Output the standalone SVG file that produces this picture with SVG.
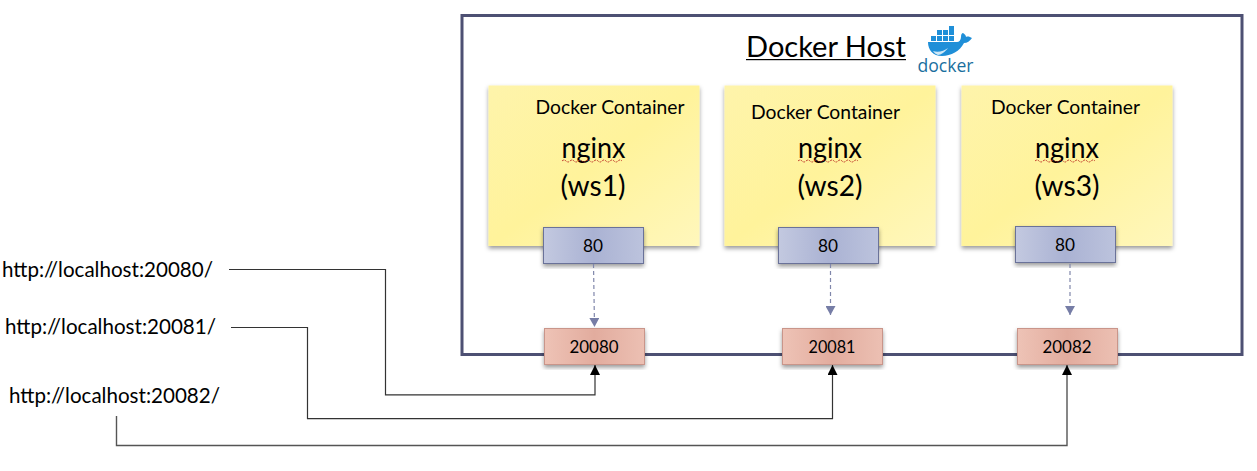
<svg xmlns="http://www.w3.org/2000/svg" width="1257" height="471" viewBox="0 0 1257 471">
<style>
text{font-family:"Lato","Noto Sans","Liberation Sans",sans-serif;fill:#000}
.url{font-size:20.5px}
.cap{font-size:18.5px}
.big{font-size:29px;text-anchor:middle}
.port{font-size:18px;text-anchor:middle}
.note{fill:url(#y);filter:url(#s)}
.in{fill:url(#b);stroke:#6a7299;stroke-width:1;filter:url(#s)}
.out{fill:url(#r);stroke:#c9958a;stroke-width:1;filter:url(#s)}
.sq{fill:none;stroke:#c0392b;stroke-width:1;stroke-dasharray:2 1}
.link{fill:none;stroke:#333;stroke-width:1.2}
.dash{fill:none;stroke:#8087ab;stroke-width:1.2;stroke-dasharray:4 3}
</style>
<defs>
<linearGradient id="y" x1="0" y1="0" x2="1" y2="1"><stop offset="0" stop-color="#fef4ab"/><stop offset=".5" stop-color="#fff39b"/><stop offset="1" stop-color="#fff7bc"/></linearGradient>
<linearGradient id="b" x1="0" y1="0" x2="1" y2="0"><stop offset="0" stop-color="#c3c9e0"/><stop offset=".5" stop-color="#aab2d3"/><stop offset="1" stop-color="#bcc3dd"/></linearGradient>
<linearGradient id="r" x1="0" y1="0" x2="1" y2="0"><stop offset="0" stop-color="#eec3b6"/><stop offset=".5" stop-color="#e2ac9e"/><stop offset="1" stop-color="#ecc0b3"/></linearGradient>
<filter id="s" x="-10%" y="-10%" width="120%" height="125%"><feDropShadow dx="0" dy="2.500" stdDeviation="2" flood-color="#000" flood-opacity=".4"/></filter>
<marker id="ab" markerWidth="11" markerHeight="11" refX="10" refY="5" orient="auto" markerUnits="userSpaceOnUse"><path d="M0 0L10 5L0 10z" fill="#000"/></marker>
<marker id="ad" markerWidth="10" markerHeight="10" refX="9" refY="5" orient="auto" markerUnits="userSpaceOnUse"><path d="M0 0L9 5L0 10z" fill="#767da6"/></marker>
</defs>
<g id="docker-host">
<rect x="462" y="15.500" width="780" height="339" fill="#fff" stroke="#4d5073" stroke-width="3"/>
<text x="746" y="57" font-size="29.500" textLength="160" lengthAdjust="spacingAndGlyphs">Docker Host</text>
<rect x="746" y="59" width="160" height="1.200" fill="#000"/>
</g>
<g id="docker-logo">
<path d="M928 42H957C959 42 961 40 961 37C961 34 962 33 963 33C965 34 966 36 966 37C968 36 970 37 972 38C970 41 967 43 964 43C960 51 951 56 942 56C933 56 928 50 928 42Z" fill="#1f8fd8"/>
<g fill="#1f8fd8"><rect x="931" y="36" width="5" height="5"/><rect x="937" y="36" width="5" height="5"/><rect x="943" y="36" width="5" height="5"/><rect x="949" y="36" width="5" height="5"/><rect x="937" y="30" width="5" height="5"/><rect x="943" y="30" width="5" height="5"/><rect x="949" y="30" width="5" height="5"/><rect x="949" y="26" width="5" height="4"/></g>
<path d="M933 51C938 53 944 51 948 48C945 52 941 55 938 55C936 54 934 53 933 51Z" fill="#cfe8f7"/>
<text x="917.500" y="72" font-size="18.500" style="font-family:'Open Sans',sans-serif;fill:#1a6f9e" textLength="56" lengthAdjust="spacingAndGlyphs">docker</text>
</g>
<g id="container-1">
<rect class="note" x="488.500" y="85.500" width="211" height="160.500"/>
<text class="cap" x="535.500" y="113.500" textLength="149" lengthAdjust="spacingAndGlyphs">Docker Container</text>
<text class="big" x="593.500" y="157.500" textLength="64" lengthAdjust="spacingAndGlyphs">nginx</text>
<path class="sq" d="M562 161q2-2 4 0t4 0 4 0 4 0 4 0 4 0 4 0 4 0 4 0 4 0 4 0 4 0 4 0 4 0 4 0"/>
<text class="big" x="593" y="195.500" textLength="65" lengthAdjust="spacingAndGlyphs">(ws1)</text>
</g>
<g id="container-2">
<rect class="note" x="724.500" y="85.500" width="211" height="160.500"/>
<text class="cap" x="751" y="118.500" textLength="149" lengthAdjust="spacingAndGlyphs">Docker Container</text>
<text class="big" x="830" y="157.500" textLength="64" lengthAdjust="spacingAndGlyphs">nginx</text>
<path class="sq" d="M798 161q2-2 4 0t4 0 4 0 4 0 4 0 4 0 4 0 4 0 4 0 4 0 4 0 4 0 4 0 4 0 4 0"/>
<text class="big" x="830" y="195.500" textLength="65" lengthAdjust="spacingAndGlyphs">(ws2)</text>
</g>
<g id="container-3">
<rect class="note" x="961.500" y="85.500" width="211" height="160.500"/>
<text class="cap" x="991" y="113.500" textLength="149" lengthAdjust="spacingAndGlyphs">Docker Container</text>
<text class="big" x="1067" y="157.500" textLength="64" lengthAdjust="spacingAndGlyphs">nginx</text>
<path class="sq" d="M1035 161q2-2 4 0t4 0 4 0 4 0 4 0 4 0 4 0 4 0 4 0 4 0 4 0 4 0 4 0 4 0 4 0"/>
<text class="big" x="1067" y="195.500" textLength="65" lengthAdjust="spacingAndGlyphs">(ws3)</text>
</g>
<g id="port-in-1"><rect class="in" x="543.500" y="227.500" width="100" height="36"/><text class="port" x="593" y="251.500" textLength="20" lengthAdjust="spacingAndGlyphs">80</text></g>
<g id="port-in-2"><rect class="in" x="778.500" y="227.500" width="100" height="36"/><text class="port" x="828" y="251.500" textLength="20" lengthAdjust="spacingAndGlyphs">80</text></g>
<g id="port-in-3"><rect class="in" x="1015.500" y="226.500" width="100" height="36"/><text class="port" x="1065" y="250.500" textLength="20" lengthAdjust="spacingAndGlyphs">80</text></g>
<g id="port-out-1"><rect class="out" x="544.500" y="328.500" width="100" height="36"/><text class="port" x="594" y="352.500" textLength="49" lengthAdjust="spacingAndGlyphs">20080</text></g>
<g id="port-out-2"><rect class="out" x="782.500" y="328.500" width="100" height="36"/><text class="port" x="832" y="352.500" textLength="47" lengthAdjust="spacingAndGlyphs">20081</text></g>
<g id="port-out-3"><rect class="out" x="1017.500" y="328.500" width="100" height="36"/><text class="port" x="1067" y="352.500" textLength="49" lengthAdjust="spacingAndGlyphs">20082</text></g>
<g id="connectors">
<path class="dash" d="M593.500 264L594.500 327" marker-end="url(#ad)"/>
<path class="dash" d="M830.500 264V315" marker-end="url(#ad)"/>
<path class="dash" d="M1070 264V315" marker-end="url(#ad)"/>
<path class="link" d="M229 269.500H385.500V394.800H595V365" marker-end="url(#ab)"/>
<path class="link" d="M231 327.500H307.500V418.700H832.500V365" marker-end="url(#ab)"/>
<path class="link" style="stroke:#555;stroke-width:1.400" d="M116.500 416V445.500H1067V365" marker-end="url(#ab)"/>
</g>
<g id="urls">
<text class="url" x="2" y="277" textLength="211" lengthAdjust="spacingAndGlyphs">http://localhost:20080/</text>
<text class="url" x="5" y="334" textLength="211" lengthAdjust="spacingAndGlyphs">http://localhost:20081/</text>
<text class="url" x="9" y="403" textLength="211" lengthAdjust="spacingAndGlyphs">http://localhost:20082/</text>
</g>
</svg>
